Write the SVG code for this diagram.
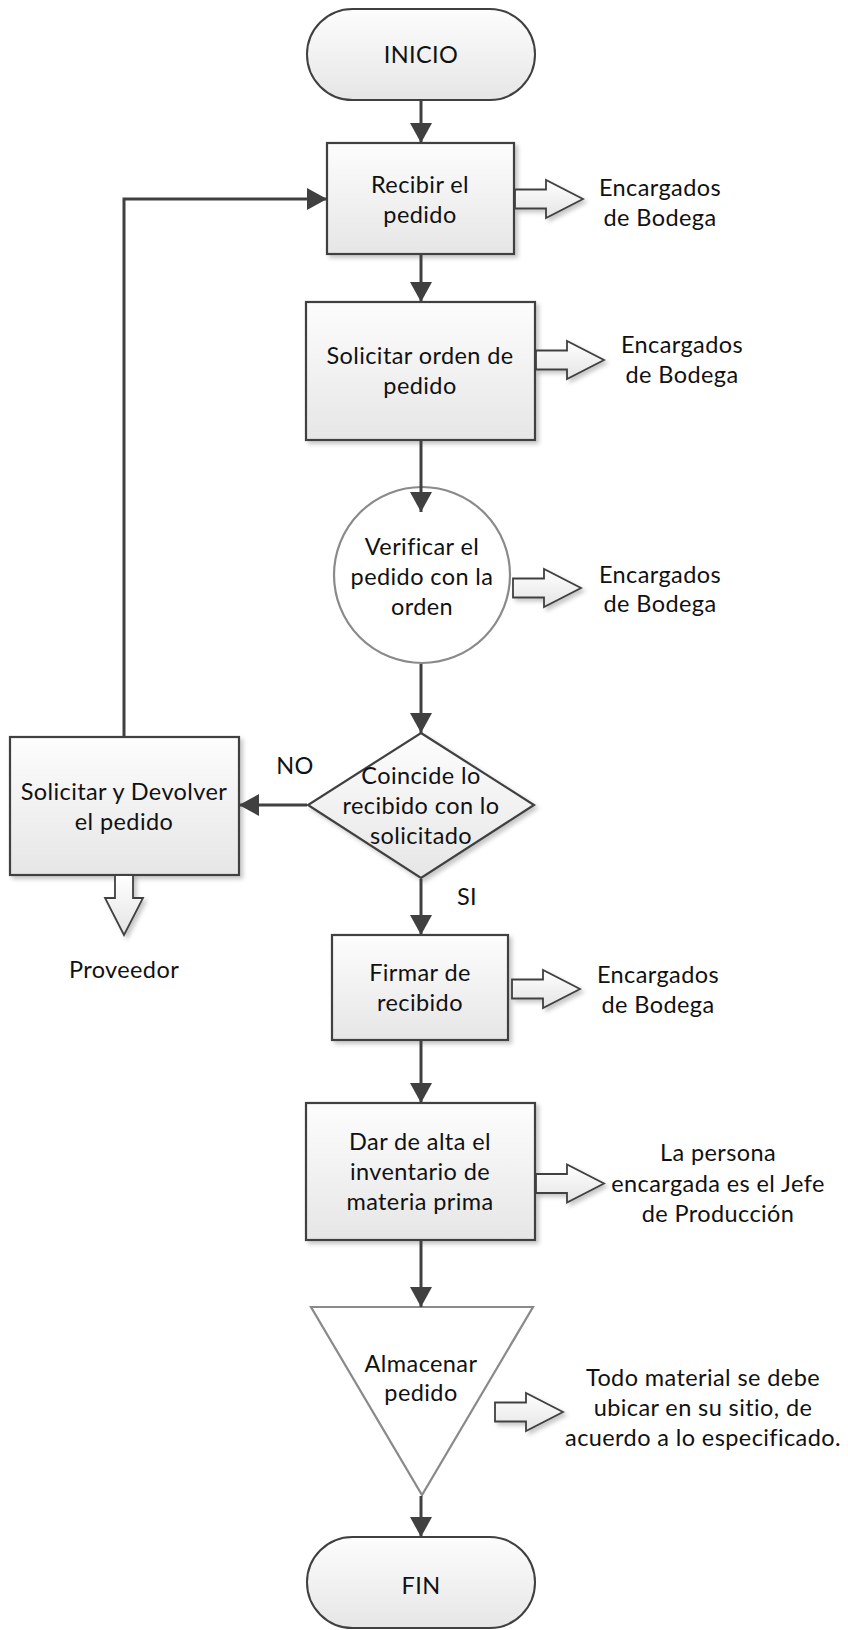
<svg xmlns="http://www.w3.org/2000/svg" width="848" height="1630" viewBox="0 0 848 1630">
  <defs>
    <linearGradient id="boxFill" x1="0" y1="0" x2="0" y2="1">
      <stop offset="0" stop-color="#fdfdfd"/>
      <stop offset="1" stop-color="#e6e6e6"/>
    </linearGradient>
    <linearGradient id="arrowFill" x1="0" y1="0" x2="0" y2="1">
      <stop offset="0" stop-color="#ffffff"/>
      <stop offset="1" stop-color="#e4e4e4"/>
    </linearGradient>
    <filter id="shadow" x="-10%" y="-10%" width="130%" height="130%">
      <feDropShadow dx="3" dy="3" stdDeviation="2" flood-color="#000" flood-opacity="0.22"/>
    </filter>
    <filter id="soft" x="-5%" y="-5%" width="110%" height="110%">
      <feGaussianBlur stdDeviation="0.6"/>
    </filter>
    <marker id="arrow" markerUnits="userSpaceOnUse" markerWidth="22" markerHeight="22" viewBox="0 0 20 22" refX="20" refY="11" orient="auto">
      <path d="M0,0 L20,11 L0,22 Z" fill="#404040"/>
    </marker>
    <!-- hollow block arrow pointing right, origin at shaft start / centre line -->
    <path id="blockRight" d="M0,-9.5 H31 V-19 L68,0 L31,19 V9.5 H0 Z"/>
  </defs>
  <style>
    text { font-family: Lato, "Liberation Sans", sans-serif; font-size: 23.5px; letter-spacing: 0.4px; fill: #111; text-anchor: middle; }
    .box { fill: url(#boxFill); stroke: #404040; stroke-width: 2.2; filter: url(#shadow); }
    .term { fill: url(#boxFill); stroke: #404040; stroke-width: 2; }
    .light { fill: #ffffff; stroke: #8a8a8a; stroke-width: 2.2; }
    .block { fill: url(#arrowFill); stroke: #404040; stroke-width: 1.8; stroke-linejoin: miter; filter: url(#shadow); }
    .conn { fill: none; stroke: #404040; stroke-width: 3; marker-end: url(#arrow); }
  </style>

  <rect width="848" height="1630" fill="#ffffff"/>

  <!-- start -->
  <g id="inicio">
    <rect class="term" x="307" y="9" width="228" height="91" rx="45.5" ry="45.5"/>
    <text x="421" y="63">INICIO</text>
  </g>

  <!-- receive order -->
  <g id="recibir">
    <rect class="box" x="327" y="143" width="187" height="111"/>
    <text x="420" y="193">Recibir el</text>
    <text x="420" y="223">pedido</text>
    <use href="#blockRight" class="block" transform="translate(515,199)"/>
    <text x="660" y="196">Encargados</text>
    <text x="660" y="226">de Bodega</text>
  </g>

  <!-- request order form -->
  <g id="solicitar-orden">
    <rect class="box" x="306" y="302" width="229" height="138"/>
    <text x="420" y="364">Solicitar orden de</text>
    <text x="420" y="394">pedido</text>
    <use href="#blockRight" class="block" transform="translate(536,360)"/>
    <text x="682" y="353">Encargados</text>
    <text x="682" y="383">de Bodega</text>
  </g>

  <!-- check order -->
  <g id="verificar">
    <circle class="light" cx="422" cy="575" r="88" filter="url(#soft)"/>
    <text x="422" y="555">Verificar el</text>
    <text x="422" y="585">pedido con la</text>
    <text x="422" y="615">orden</text>
    <use href="#blockRight" class="block" transform="translate(513,588)"/>
    <text x="660" y="583">Encargados</text>
    <text x="660" y="612">de Bodega</text>
  </g>

  <!-- decision -->
  <g id="coincide">
    <polygon class="box" points="421,733 534,805 421,878 308,805"/>
    <text x="421" y="784">Coincide lo</text>
    <text x="421" y="814">recibido con lo</text>
    <text x="421" y="844">solicitado</text>
    <text x="295" y="774">NO</text>
    <text x="467" y="905">SI</text>
  </g>

  <!-- return to supplier -->
  <g id="devolver">
    <rect class="box" x="10" y="737" width="229" height="138"/>
    <text x="124" y="800">Solicitar y Devolver</text>
    <text x="124" y="830">el pedido</text>
    <path class="block" d="M115,875 V898 H105 L124,935 L143,898 H133 V875 Z"/>
    <text x="124" y="978">Proveedor</text>
  </g>

  <!-- sign receipt -->
  <g id="firmar">
    <rect class="box" x="332" y="935" width="176" height="105"/>
    <text x="420" y="981">Firmar de</text>
    <text x="420" y="1011">recibido</text>
    <use href="#blockRight" class="block" transform="translate(512,989)"/>
    <text x="658" y="983">Encargados</text>
    <text x="658" y="1013">de Bodega</text>
  </g>

  <!-- register inventory -->
  <g id="dar-de-alta">
    <rect class="box" x="306" y="1103" width="229" height="137"/>
    <text x="420" y="1150">Dar de alta el</text>
    <text x="420" y="1180">inventario de</text>
    <text x="420" y="1210">materia prima</text>
    <use href="#blockRight" class="block" transform="translate(536,1183.5)"/>
    <text x="718" y="1161">La persona</text>
    <text x="718" y="1192">encargada es el Jefe</text>
    <text x="718" y="1222">de Producción</text>
  </g>

  <!-- store -->
  <g id="almacenar">
    <polygon class="light" points="311,1307 533,1307 422,1495" filter="url(#soft)"/>
    <text x="421" y="1372">Almacenar</text>
    <text x="421" y="1401">pedido</text>
    <use href="#blockRight" class="block" transform="translate(495,1412)"/>
    <text x="703" y="1386">Todo material se debe</text>
    <text x="703" y="1416">ubicar en su sitio, de</text>
    <text x="703" y="1446">acuerdo a lo especificado.</text>
  </g>

  <!-- end -->
  <g id="fin">
    <rect class="term" x="307" y="1537" width="228" height="91" rx="45.5" ry="45.5"/>
    <text x="421" y="1594">FIN</text>
  </g>

  <!-- connectors, drawn last so arrowheads sit on top of the shapes -->
  <g id="connectors">
    <line class="conn" x1="421" y1="101" x2="421" y2="143"/>
    <line class="conn" x1="421" y1="254" x2="421" y2="302"/>
    <line class="conn" x1="421" y1="441" x2="421" y2="512"/>
    <line class="conn" x1="421" y1="664" x2="421" y2="733"/>
    <line class="conn" x1="307" y1="805" x2="239" y2="805"/>
    <polyline class="conn" points="124,736 124,199 327,199"/>
    <line class="conn" x1="421" y1="879" x2="421" y2="935"/>
    <line class="conn" x1="421" y1="1041" x2="421" y2="1103"/>
    <line class="conn" x1="421" y1="1241" x2="421" y2="1307"/>
    <line class="conn" x1="421" y1="1496" x2="421" y2="1537"/>
  </g>
</svg>
